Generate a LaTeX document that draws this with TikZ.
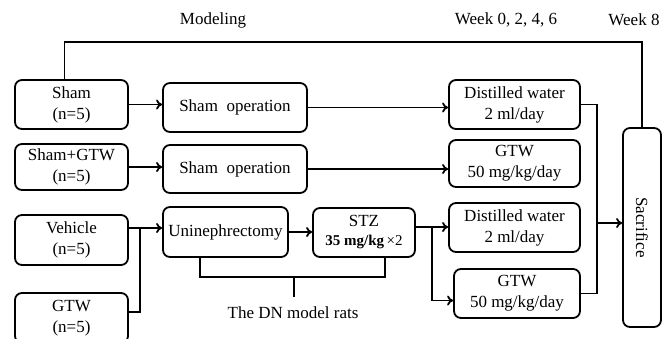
\documentclass[tikz,border=0pt]{standalone}
\usepackage{fontspec}
\setmainfont{Liberation Serif}
\usetikzlibrary{arrows.meta}
\tikzset{
  box/.style={draw, line width=1.8pt, rounded corners=7pt, align=center, inner sep=0pt, font=\fontsize{17}{21}\selectfont},
  link/.style={line width=1.8pt},
  arr/.style={link, -{To[length=6pt,width=10pt]}},
  lbl/.style={font=\fontsize{17}{21}\selectfont}
}
\begin{document}
\begin{tikzpicture}[x=1pt, y=-1pt]
  \clip (0,0) rectangle (670,338);
  \node[lbl] (modeling) at (213,20) {Modeling};
  \node[lbl] (weeks)    at (506,20) {Week 0, 2, 4, 6};
  \node[lbl] (week8)    at (634,20) {Week 8};

  \node[box, minimum width=113pt, minimum height=49pt] (sham)    at (71.5,104.5) {Sham\\(n=5)};
  \node[box, minimum width=113pt, minimum height=46pt] (shamgtw) at (71.5,167)   {Sham+GTW\\(n=5)};
  \node[box, minimum width=113pt, minimum height=50pt] (vehicle) at (71.5,240)   {Vehicle\\(n=5)};
  \node[box, minimum width=113pt, minimum height=50pt] (gtw)     at (71.5,318)   {GTW\\(n=5)};

  \node[box, minimum width=144pt, minimum height=49pt] (shamop)  at (235,107.5) {Sham~~operation};
  \node[box, minimum width=144pt, minimum height=48pt] (shamop2) at (235,169)   {Sham~~operation};
  \node[box, minimum width=125pt, minimum height=50pt] (uni)     at (225.5,232) {Uninephrectomy};
  \node[box, minimum width=102pt, minimum height=49pt] (stz)     at (364,232.5)
    {STZ\\[-2pt]{\fontsize{15}{18}\selectfont\bfseries 35 mg/kg\mdseries\,×2}};

  \node[box, minimum width=131pt, minimum height=49pt] (water)  at (514.5,104.5) {Distilled water\\2 ml/day};
  \node[box, minimum width=131pt, minimum height=47pt] (gtwdose) at (514.5,163.5) {GTW\\50 mg/kg/day};
  \node[box, minimum width=131pt, minimum height=49pt] (water2) at (514.5,227.5) {Distilled water\\2 ml/day};
  \node[box, minimum width=126pt, minimum height=49pt] (gtwdose2) at (517,293.5) {GTW\\50 mg/kg/day};

  \node[box, minimum width=38pt, minimum height=199pt] (sac) at (642,227.5) {};
  \node[lbl, rotate=-90] (sactext) at (sac) {Sacrifice};

  \coordinate (top) at (400,42);
  \coordinate (merge) at (140,228);
  \coordinate (split) at (432,227);
  \coordinate (join) at (597,223);
  \coordinate (brace) at (294,277);
  \coordinate (bracetip) at (294,297);

  \draw[link] ([xshift=-7pt]sham.north) |- (top) -| (sac.north);

  \draw[arr] (sham.east) -- (sham.east -| shamop.west);
  \draw[arr] (shamgtw.east) -- (shamgtw.east -| shamop2.west);
  \draw[arr] (shamop.east) -- (shamop.east -| water.west);
  \draw[arr] (shamop2.east) -- (shamop2.east -| gtwdose.west);

  \draw[link] (vehicle.east |- merge) -- (merge);
  \draw[link] ([yshift=6pt]gtw.east) -| (merge);
  \draw[arr] (merge) -- (merge -| uni.west);
  \draw[arr] (uni.east) -- (uni.east -| stz.west);

  \draw[link] (stz.east |- split) -- (split);
  \draw[arr] (split) -- (split -| water2.west);
  \draw[arr] (split) |- ([yshift=-7pt]gtwdose2.west);

  \draw[link] (water.east) -| (join);
  \draw[link] (gtwdose2.east) -| (join);
  \draw[arr] (join) -- (join -| sac.west);

  \draw[link] ([xshift=-25.5pt]uni.south) |- (brace) -| ([xshift=21pt]stz.south);
  \draw[link] (brace) -- (bracetip);
  \node[lbl] (dnrats) at (293,313) {The DN model rats};
\end{tikzpicture}
\end{document}
